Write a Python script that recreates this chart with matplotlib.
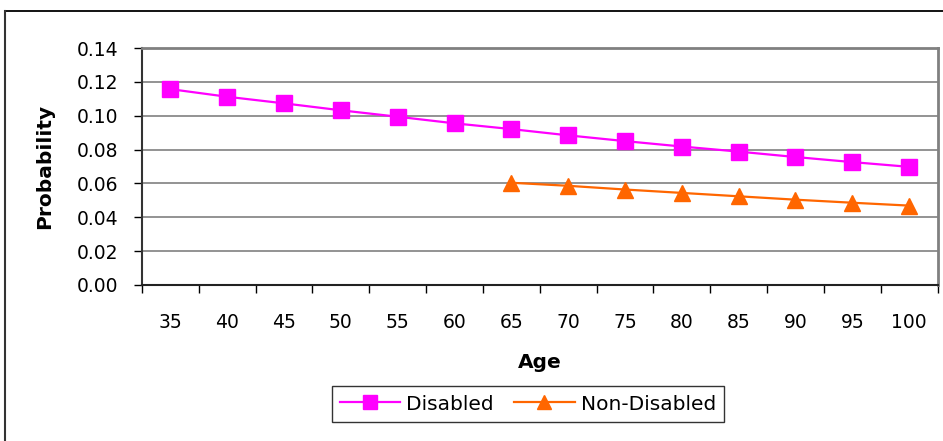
import matplotlib.pyplot as plt
from matplotlib.lines import Line2D

plt.rcParams['font.family'] = ['DejaVu Sans']

# --- datos ---
edades = ['35', '40', '45', '50', '55', '60', '65', '70', '75', '80', '85', '90', '95', '100']
disabled = [0.1157, 0.1112, 0.1073, 0.1032, 0.0994, 0.0955, 0.0921,
            0.0884, 0.0850, 0.0818, 0.0788, 0.0756, 0.0726, 0.0698]
# Non-Disabled empieza en 65
edades_nd = ['65', '70', '75', '80', '85', '90', '95', '100']
non_disabled = [0.0604, 0.0586, 0.0564, 0.0544, 0.0524, 0.0504, 0.0486, 0.0469]
yticks = [0.00, 0.02, 0.04, 0.06, 0.08, 0.10, 0.12, 0.14]

W, H = 943, 441
fig = plt.figure(figsize=(W / 100, H / 100), dpi=100)

# marco exterior (solo arriba e izquierda visibles)
fig.add_artist(Line2D([5 / W, 1], [1 - 10.5 / H, 1 - 10.5 / H], color='black', lw=1.3))
fig.add_artist(Line2D([5 / W, 5 / W], [0, 1 - 10.5 / H], color='#333333', lw=1.5))

left, right, top, bottom = 142, 937.5, 48, 285
ax = fig.add_axes([left / W, 1 - bottom / H, (right - left) / W, (bottom - top) / H])

pos = {e: i for i, e in enumerate(edades)}
x_dis = [pos[e] for e in edades]
x_nd = [pos[e] for e in edades_nd]

ax.plot(x_dis, disabled, color='#FF00FF', lw=1.6, marker='s', markersize=11,
        markeredgecolor='#FF00FF', label='Disabled', zorder=3)
ax.plot(x_nd, non_disabled, color='#FF6600', lw=1.6, marker='^', markersize=11,
        markeredgecolor='#FF6600', label='Non-Disabled', zorder=3)

ax.set_xlim(-0.5, len(edades) - 0.5)
ax.set_ylim(0, 0.14)
ax.set_yticks(yticks)
ax.set_yticklabels([f'{v:.2f}' for v in yticks], fontsize=13.5)
ax.set_xticks(range(len(edades)))
ax.set_xticklabels(edades, fontsize=13.5)
ax.set_xticks([i - 0.5 for i in range(len(edades) + 1)], minor=True)
ax.tick_params(axis='x', which='major', length=0, pad=20)
ax.tick_params(axis='x', which='minor', length=6, width=1, direction='out')
ax.tick_params(axis='y', length=6, width=1, direction='out', pad=11)

ax.grid(True, axis='y', color='#808080', lw=1.2)
ax.set_axisbelow(True)
for lado in ['top', 'right']:
    ax.spines[lado].set_color('#808080')
    ax.spines[lado].set_linewidth(2)
ax.spines['left'].set_color('#333333')
ax.spines['left'].set_linewidth(1.5)
ax.spines['bottom'].set_color('#222222')
ax.spines['bottom'].set_linewidth(1.5)

ax.set_ylabel('Probability', fontsize=14.5, fontweight='bold', va='center')
ax.yaxis.set_label_coords(-0.122, 0.5)
ax.set_xlabel('Age', fontsize=14.5, fontweight='bold', va='center')
ax.xaxis.set_label_coords(0.5, -0.325)

leg = fig.legend(loc='center', bbox_to_anchor=(528 / W, 1 - 404 / H), ncol=2,
                 fontsize=14.5, frameon=True, fancybox=False, edgecolor='black',
                 handlelength=3.0, columnspacing=1.0, handletextpad=0.3,
                 borderpad=0.4, markerscale=0.9)
leg.get_frame().set_linewidth(1)

fig.savefig('out.png', dpi=100)
